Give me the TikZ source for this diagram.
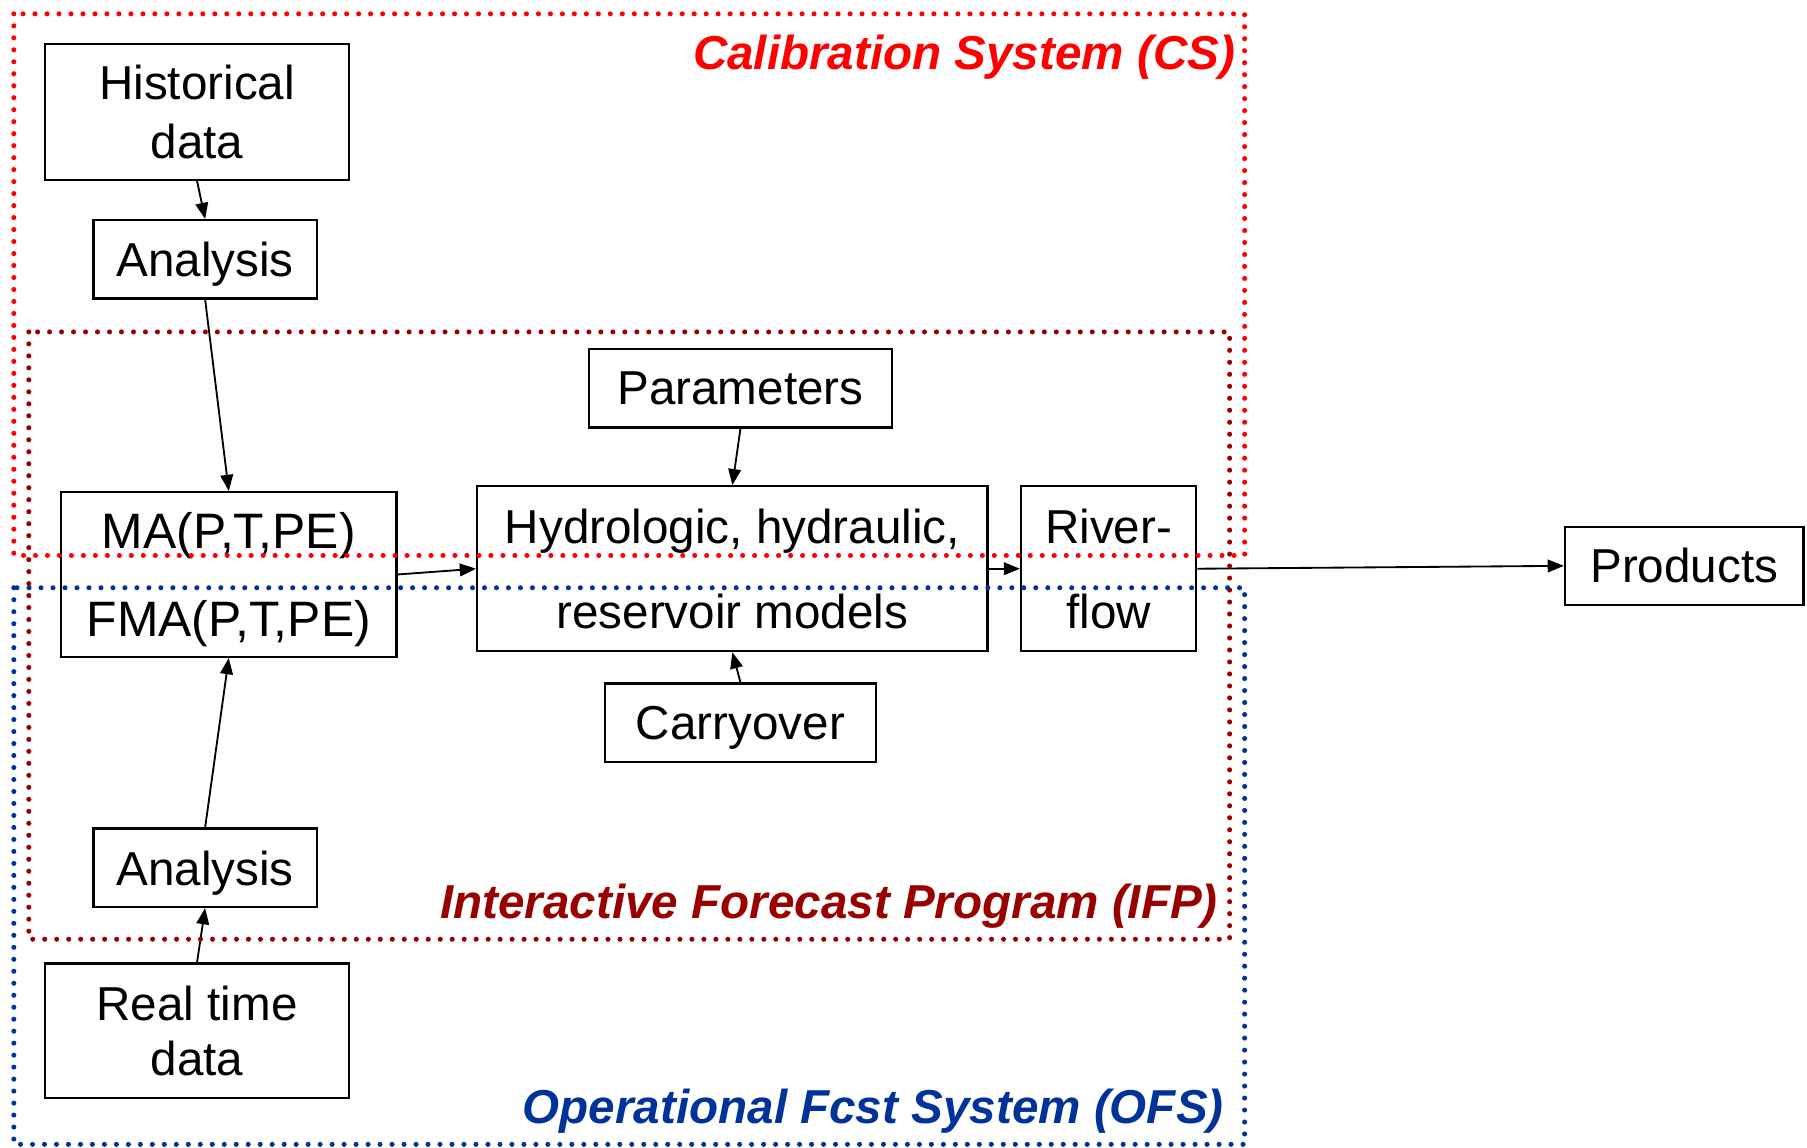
\documentclass[tikz,border=0pt]{standalone}
\usepackage{fontspec}
\setmainfont{Liberation Sans}
\usetikzlibrary{arrows.meta}
\definecolor{csred}{RGB}{255,0,0}
\definecolor{ifpred}{RGB}{153,0,0}
\definecolor{ofsblue}{RGB}{0,51,153}
\begin{document}
\begin{tikzpicture}[x=1pt,y=-1pt,
  box/.style={draw, line width=2pt, inner sep=0pt, align=center,
    font=\fontsize{41.3}{51}\selectfont},
  conn/.style={line width=1.6pt, -{Triangle[length=14pt,width=11pt]}},
  frame/.style={line width=4.4pt, line cap=round, dash pattern=on 0pt off 10.4pt},
  syslabel/.style={anchor=base east, inner sep=0pt, font=\fontsize{41.3}{50}\selectfont\bfseries\itshape}]
\useasboundingbox (0,0) rectangle (1568,996);

% boxes
\node[box, minimum width=264pt, minimum height=118pt] (hist) at (171,97) {Historical\\data};
\node[box, minimum width=194pt, minimum height=68pt, text depth=0pt] (an1) at (178,225) {Analysis};
\node[box, minimum width=291pt, minimum height=143pt, text depth=0pt, font=\fontsize{43.2}{76}\selectfont] (ma) at (198.5,498.5) {MA(P,T,PE)\\FMA(P,T,PE)};
\node[box, minimum width=263pt, minimum height=68pt] (par) at (642.5,337) {Parameters};
\node[box, minimum width=443pt, minimum height=143pt, font=\fontsize{41.3}{74}\selectfont] (hyd) at (635.5,493.5) {Hydrologic, hydraulic,\\reservoir models};
\node[box, minimum width=152pt, minimum height=143pt, font=\fontsize{41.3}{74}\selectfont] (riv) at (962,493.5) {River-\\flow};
\node[box, minimum width=235pt, minimum height=68pt, text depth=0pt] (car) at (642.5,627) {Carryover};
\node[box, minimum width=207pt, minimum height=68pt] (prod) at (1461.5,491) {Products};
\node[box, minimum width=194pt, minimum height=68pt, text depth=0pt] (an2) at (178,753) {Analysis};
\node[box, minimum width=264pt, minimum height=117pt, font=\fontsize{41.3}{48}\selectfont] (rt) at (171,894.5) {Real time\\data};

% connectors
\draw[conn] (hist.south) -- (an1.north);
\draw[conn] (an1.south) -- (ma.north);
\draw[conn] (an2.north) -- (ma.south);
\draw[conn] (rt.north) -- (an2.south);
\draw[conn] (ma.east) -- (hyd.west);
\draw[conn] (par.south) -- (hyd.north);
\draw[conn] (car.north) -- (hyd.south);
\draw[conn] (hyd.east) -- (riv.west);
\draw[conn] (riv.east) -- (prod.west);

% system frames
\draw[frame, csred] (12,12) rectangle (1080,482);
\draw[frame, ifpred] (25,288) rectangle (1067,815);
\draw[frame, ofsblue] (12,510) rectangle (1080,993);

% frame labels
\node[syslabel, text=csred] (cslabel) at (1072,60) {Calibration System (CS)};
\node[syslabel, text=ifpred] (ifplabel) at (1057,797) {Interactive Forecast Program (IFP)};
\node[syslabel, text=ofsblue] (ofslabel) at (1062,975) {Operational Fcst System (OFS)};
\end{tikzpicture}
\end{document}
